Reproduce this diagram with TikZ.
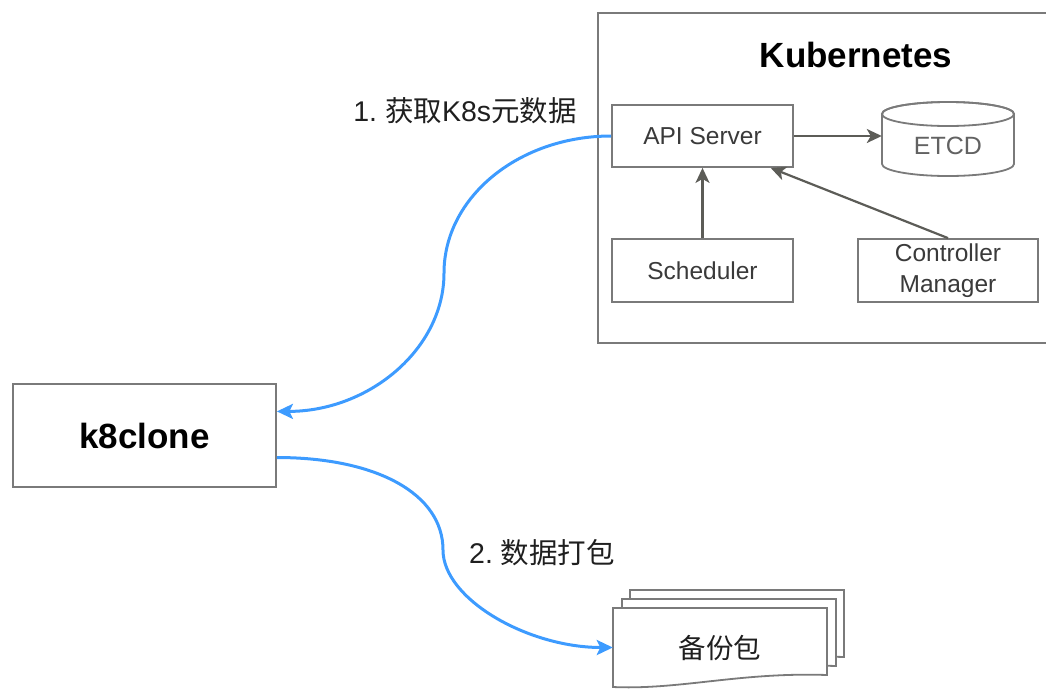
\documentclass[tikz,border=0pt]{standalone}
\usepackage{fontspec}
\setmainfont{Liberation Sans}
\newfontfamily\cjk{Noto Sans CJK SC}
\usetikzlibrary{arrows.meta,calc}
\definecolor{boxline}{HTML}{7A7A7A}
\definecolor{arrowgray}{HTML}{5C5C57}
\definecolor{flowblue}{HTML}{3D9BFF}
\definecolor{txtgray}{HTML}{3A3A3A}
\definecolor{etcdtext}{HTML}{626262}
\newcommand{\docpath}[2]{(#1,#2) -- ++(214,0) -- ++(0,67) .. controls +(-87,-3) and +(67,3) .. ++(-214,12) -- cycle}
\begin{document}
\begin{tikzpicture}[x=1pt,y=-1pt,
  box/.style={draw=boxline, line width=1.8pt, fill=white, inner sep=0pt,
    font=\fontsize{24.5}{30.5}\selectfont, text=txtgray, align=center},
  shapeline/.style={draw=boxline, line width=1.8pt, fill=white},
  garrow/.style={draw=arrowgray, line width=2.2pt, -{Stealth[length=15pt,width=14pt,inset=4pt]}},
  flow/.style={draw=flowblue, line width=3pt, -{Stealth[length=16pt,width=15pt,inset=3.5pt]}},
  lbl/.style={font=\fontsize{28.5}{34}\selectfont, text=black!88},
  bigbold/.style={font=\bfseries\fontsize{35}{42}\selectfont, text=black}
]
\useasboundingbox (0,0) rectangle (1046,689);

% Kubernetes container
\node[draw=boxline, line width=1.8pt, minimum width=455pt, minimum height=330pt,
  anchor=north west, inner sep=0pt] (k8s) at (597,12) {};
\node[bigbold] (title) at (856,55) {Kubernetes};

% components
\node[box, minimum width=181pt, minimum height=62pt] (api) at (702.5,136) {API Server};
\node[box, minimum width=181pt, minimum height=63pt] (sched) at (702.5,270.5) {Scheduler};
\node[box, minimum width=180pt, minimum height=63pt] (cm) at (948,270.5) {Controller\\Manager};

% ETCD cylinder
\node[minimum width=132pt, minimum height=75pt, inner sep=0pt] (etcd) at (948,139) {};
\draw[shapeline] (882,114) -- (882,164) arc[start angle=180, end angle=0, x radius=66, y radius=12]
  -- (1014,114) arc[start angle=0, end angle=-180, x radius=66, y radius=12] -- cycle;
\draw[boxline, line width=1.8pt] (948,114) ellipse[x radius=66, y radius=12];
\node[font=\fontsize{25}{30}\selectfont, text=etcdtext] (etcdlbl) at (948,146) {ETCD};

% arrows inside
\draw[garrow] (api.east) -- (api.east -| etcd.west);
\draw[garrow] (sched.north) -- (api.south);
\draw[garrow] (cm.north) -- ($(api.south west)!0.873!(api.south east)$);

% k8clone
\node[draw=boxline, line width=1.8pt, fill=white, minimum width=263pt, minimum height=103pt,
  inner sep=0pt, bigbold] (k8) at (144.5,435.5) {k8clone};

% backup documents
\draw[shapeline] \docpath{630}{590};
\draw[shapeline] \docpath{622}{599};
\draw[shapeline] \docpath{613}{608};
\node[minimum width=214pt, minimum height=79pt, inner sep=0pt,
  font=\cjk\fontsize{27.5}{33}\selectfont, text=black!88] (bk) at (720,647.5) {备份包};

% flows
\coordinate (m1) at (444,273);
\coordinate (m2) at (443,550);
\draw[flow] (api.west) .. controls +(-92,0) and +(0,-76) .. (m1)
  .. controls +(0,76) and +(92,0) .. ($(k8.north east)!0.27!(k8.south east)$);
\draw[flow] ($(k8.north east)!0.71!(k8.south east)$) .. controls +(100,0) and +(0,-56) .. (m2)
  .. controls +(0,49) and +(-85,0) .. (bk.west);

% labels
\node[lbl] (l1) at (465,111) {1.\ {\cjk 获取}K8s{\cjk 元数据}};
\node[lbl] (l2) at (542,553) {2.\ {\cjk 数据打包}};
\end{tikzpicture}
\end{document}
